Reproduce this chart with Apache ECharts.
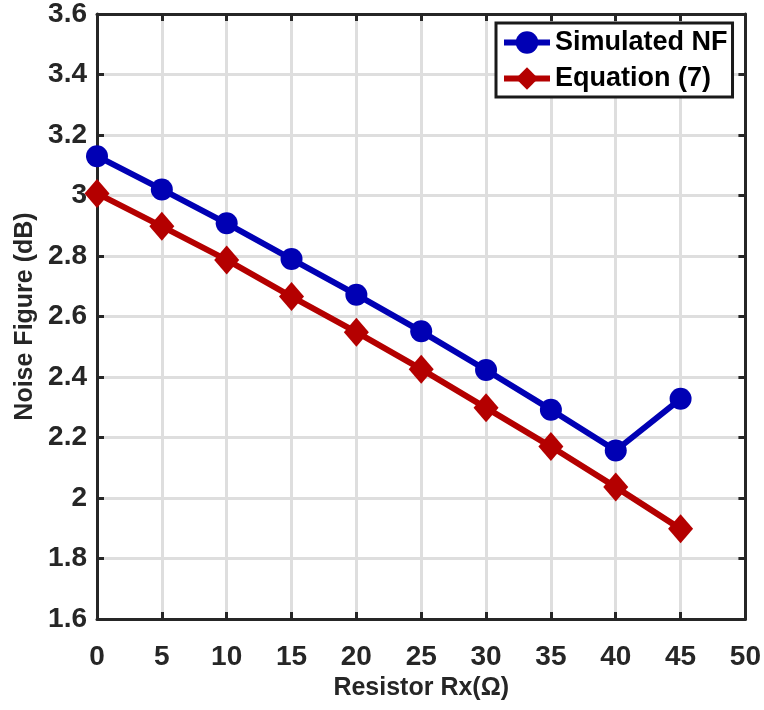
<!DOCTYPE html>
<html>
<head>
<meta charset="utf-8">
<script src="https://cdn.jsdelivr.net/npm/echarts@6/dist/echarts.min.js"></script>
<style>
  html, body { margin: 0; padding: 0; background: #fff; }
  #chart { width: 764px; height: 710px; }
</style>
</head>
<body>
<div id="chart"></div>
<script>
// Resistor values (ohm)
const resistorRx = [0, 5, 10, 15, 20, 25, 30, 35, 40, 45];
// Noise figure from simulation (dB)
const simulatedNF = [3.13, 3.02, 2.908, 2.79, 2.672, 2.551, 2.423, 2.292, 2.157, 2.328];
// Noise figure from Equation (7) (dB)
const equationNF = [3.007, 2.898, 2.787, 2.666, 2.548, 2.426, 2.298, 2.17, 2.036, 1.898];

const AXIS = '#262626';
const FONT = '"Liberation Sans", Arial, sans-serif';

const chart = echarts.init(document.getElementById('chart'), null, { renderer: 'canvas' });

const pairs = (ys) => resistorRx.map((x, i) => [x, ys[i]]);

const baseX = {
  type: 'value', min: 0, max: 50, interval: 5,
  axisLine: { show: true, onZero: false, lineStyle: { color: AXIS, width: 3 } },
  axisTick: { show: true, inside: true, length: 7, lineStyle: { color: AXIS, width: 3 } }
};
const baseY = {
  type: 'value', min: 1.6, max: 3.6, interval: 0.2,
  axisLine: { show: true, onZero: false, lineStyle: { color: AXIS, width: 3 } },
  axisTick: { show: true, inside: true, length: 7, lineStyle: { color: AXIS, width: 3 } }
};

chart.setOption({
  backgroundColor: '#fff',
  animation: false,
  grid: { left: 97, right: 18, top: 9, bottom: 91, containLabel: false },
  xAxis: [
    Object.assign({}, baseX, {
      position: 'bottom',
      name: 'Resistor Rx(\u03A9)', nameLocation: 'middle', nameGap: 56,
      nameTextStyle: { fontFamily: FONT, fontWeight: 'bold', fontSize: 25, color: '#262626' },
      axisLabel: { margin: 24, fontFamily: FONT, fontWeight: 'bold', fontSize: 28, color: '#262626' },
      splitLine: { show: true, lineStyle: { color: '#dedede', width: 3 } }
    }),
    Object.assign({}, baseX, {
      position: 'top', axisLabel: { show: false }, splitLine: { show: false }
    })
  ],
  yAxis: [
    Object.assign({}, baseY, {
      position: 'left',
      name: 'Noise Figure (dB)', nameLocation: 'middle', nameGap: 58,
      nameTextStyle: { fontFamily: FONT, fontWeight: 'bold', fontSize: 25, color: '#262626' },
      axisLabel: {
        margin: 10, fontFamily: FONT, fontWeight: 'bold', fontSize: 28, color: '#262626',
        padding: [4, 0, 0, 0],
        formatter: (v) => String(parseFloat(v.toFixed(1)))
      },
      splitLine: { show: true, lineStyle: { color: '#dedede', width: 3 } }
    }),
    Object.assign({}, baseY, {
      position: 'right', axisLabel: { show: false }, splitLine: { show: false }
    })
  ],
  legend: {
    left: 496, top: 23,
    orient: 'vertical',
    backgroundColor: '#fff',
    borderColor: '#1a1a1a', borderWidth: 3,
    padding: [6, 5, 5, 5],
    itemGap: 9,
    itemWidth: 46, itemHeight: 28,
    lineStyle: { width: 6 },
    textStyle: { fontFamily: FONT, fontWeight: 'bold', fontSize: 27, color: '#000' },
    data: ['Simulated NF', 'Equation (7)']
  },
  series: [
    {
      name: 'Simulated NF', type: 'line',
      data: pairs(simulatedNF),
      symbol: 'circle', symbolSize: 22,
      lineStyle: { color: '#0000b4', width: 6 },
      itemStyle: { color: '#0000b4' },
      z: 3
    },
    {
      name: 'Equation (7)', type: 'line',
      data: pairs(equationNF),
      symbol: 'diamond', symbolSize: [25, 29],
      lineStyle: { color: '#b40000', width: 6 },
      itemStyle: { color: '#b40000' },
      z: 2
    }
  ]
});
</script>
</body>
</html>
